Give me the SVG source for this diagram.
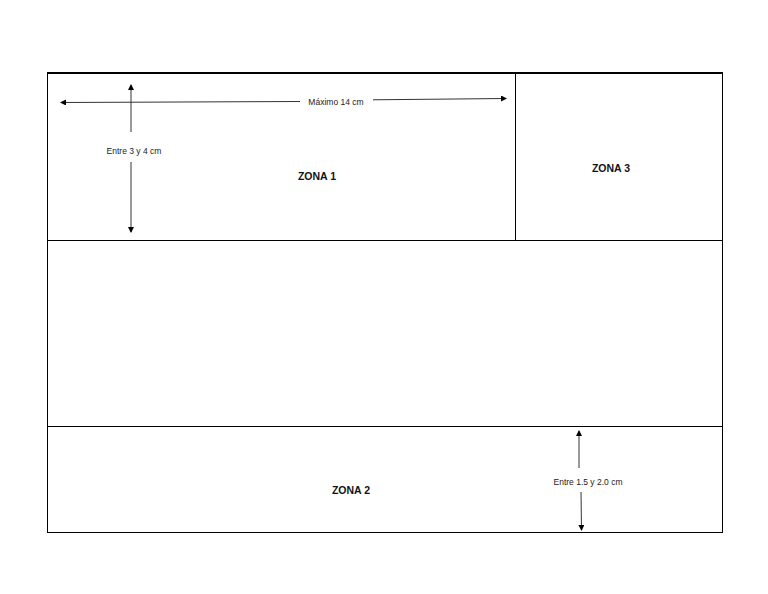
<svg xmlns="http://www.w3.org/2000/svg" width="768" height="594" viewBox="0 0 768 594">
<defs>
<marker id="ah" markerWidth="6" markerHeight="6" refX="5" refY="3" orient="auto" markerUnits="userSpaceOnUse">
<path d="M0,0 L6,3 L0,6 z" fill="#000"/>
</marker>
<style>
.ln{stroke:#000;stroke-width:1;fill:none}
.dim{stroke:#333;stroke-width:1;fill:none}
.zl{font-family:"Liberation Sans",Arial,sans-serif;font-size:10.5px;font-weight:bold;fill:#111;text-anchor:middle}
.dl{font-family:"Liberation Sans",Arial,sans-serif;font-size:8.5px;fill:#222;text-anchor:middle}
</style>
</defs>
<rect width="768" height="594" fill="#fff"/>
<g id="frame">
<rect x="47.5" y="73.5" width="675" height="459" class="ln"/>
<line x1="47" y1="73" x2="723" y2="73" stroke="#000" stroke-width="2"/>
</g>
<g id="zona1">
<line x1="515.5" y1="73" x2="515.5" y2="240" class="ln"/>
<text x="317" y="180" class="zl">ZONA 1</text>
</g>
<g id="zona3">
<text x="611" y="172" class="zl">ZONA 3</text>
</g>
<g id="middle">
<line x1="47" y1="240.5" x2="723" y2="240.5" class="ln"/>
</g>
<g id="zona2">
<line x1="47" y1="426.5" x2="723" y2="426.5" class="ln"/>
<text x="351" y="494" class="zl">ZONA 2</text>
</g>
<g id="connectors">
<line x1="300" y1="101.5" x2="61" y2="102.5" class="dim" marker-end="url(#ah)"/>
<line x1="373" y1="99.8" x2="506" y2="98.5" class="dim" marker-end="url(#ah)"/>
<line x1="131" y1="132" x2="131" y2="85" class="dim" marker-end="url(#ah)"/>
<line x1="131" y1="162" x2="131" y2="232" class="dim" marker-end="url(#ah)"/>
<line x1="579" y1="468" x2="579" y2="431" class="dim" marker-end="url(#ah)"/>
<line x1="581" y1="492" x2="581.5" y2="530" class="dim" marker-end="url(#ah)"/>
</g>
<g id="labels">
<text x="336" y="105" class="dl">Máximo 14 cm</text>
<text x="134" y="154" class="dl">Entre 3 y 4 cm</text>
<text x="588" y="485" class="dl">Entre 1.5 y 2.0 cm</text>
</g>
</svg>
